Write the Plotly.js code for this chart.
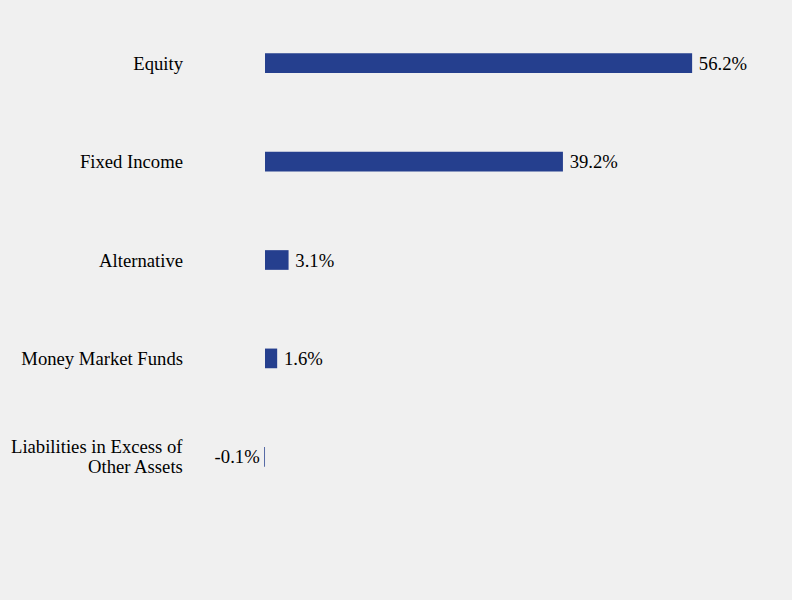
<!DOCTYPE html>
<html>
<head>
<meta charset="utf-8">
<script src="https://cdn.plot.ly/plotly-3.0.1.min.js"></script>
<style>
  html, body { margin: 0; padding: 0; background: #f0f0f0; }
  #chart { width: 792px; height: 600px; }
</style>
</head>
<body>
<div id="chart"></div>
<script>
// asset allocation, top to bottom
var categories = ['Equity', 'Fixed Income', 'Alternative', 'Money Market Funds', 'Liabilities in Excess of Other Assets'];
var tickLabels = ['Equity', 'Fixed Income', 'Alternative', 'Money Market Funds', ''];
var values = [56.2, 39.2, 3.1, 1.6, -0.1];
var labels = ['\u200956.2%', '\u200939.2%', '\u20093.1%', '\u20091.6%', '-0.1%\u200a'];
// the long category is split over two tighter lines
var longLabelLines = ['Liabilities in Excess of', 'Other Assets'];

var serif = 'Liberation Serif, Times New Roman, serif';

var trace = {
  type: 'bar',
  orientation: 'h',
  y: categories,
  x: values,
  text: labels,
  textposition: 'outside',
  constraintext: 'none',
  cliponaxis: false,
  textfont: { family: serif, size: 18.67, color: '#000' },
  marker: { color: '#253f8e' },
  width: 0.2,
  hoverinfo: 'none'
};

var annotations = longLabelLines.map(function(line, i) {
  return {
    xref: 'paper', yref: 'y',
    x: 0, y: categories[4],
    xanchor: 'right', yanchor: 'middle',
    xshift: 1,
    yshift: i === 0 ? 10 : -10,
    text: line,
    showarrow: false,
    font: { family: serif, size: 18.67, color: '#000' }
  };
});

var layout = {
  width: 792,
  height: 600,
  paper_bgcolor: '#f0f0f0',
  plot_bgcolor: '#f0f0f0',
  margin: { l: 184, r: 20, t: 14, b: 94 },
  font: { family: serif, size: 18.67, color: '#000' },
  showlegend: false,
  annotations: annotations,
  xaxis: {
    range: [-10.66, 66.71],
    showgrid: false,
    zeroline: false,
    showticklabels: false,
    showline: false
  },
  yaxis: {
    autorange: 'reversed',
    tickmode: 'array',
    tickvals: categories,
    ticktext: tickLabels,
    showgrid: false,
    zeroline: false,
    showline: false,
    ticks: '',
    ticklabelstandoff: 0,
    automargin: false
  }
};

Plotly.newPlot('chart', [trace], layout, { displayModeBar: false, staticPlot: true });
</script>
</body>
</html>
